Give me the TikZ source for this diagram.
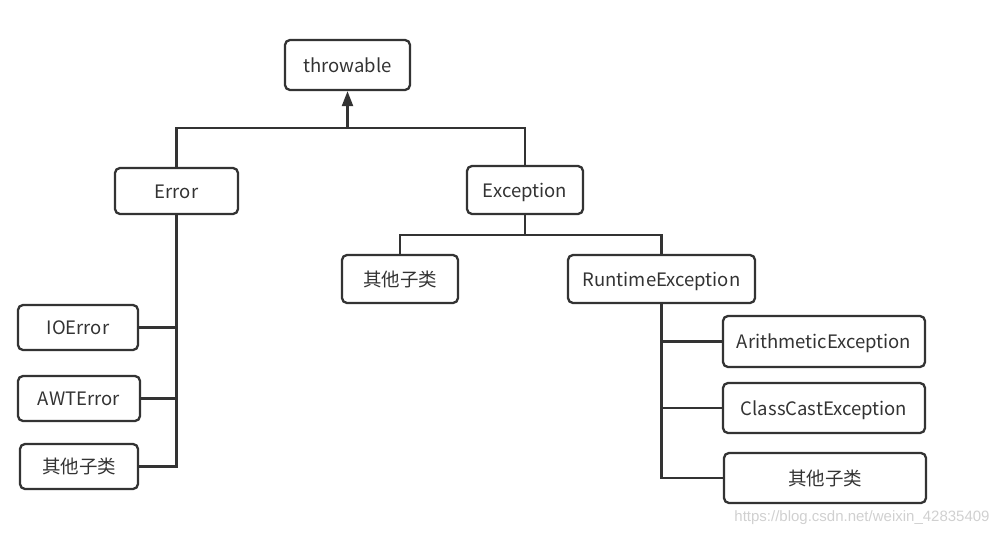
\documentclass[tikz,border=0pt]{standalone}
\usepackage{fontspec}
\setmainfont{Noto Sans CJK SC}
\newfontfamily\wmfont{Liberation Sans}
\usetikzlibrary{arrows.meta}
\definecolor{ink}{HTML}{333333}
\definecolor{wm}{HTML}{D0D0D0}
\tikzset{
  box/.style={draw=ink, line width=2.3pt, rounded corners=5pt, inner sep=0pt, text=ink,
    font=\fontsize{18.5}{21}\selectfont, text height=14.5pt, text depth=0pt},
  conn/.style={draw=ink, line width=2.3pt},
}
\begin{document}
\begin{tikzpicture}[x=1pt,y=-1pt]
\useasboundingbox (0,0) rectangle (1006,536);
\node[box, minimum width=125pt, minimum height=50pt] (throwable) at (347.5,65) {throwable};
\node[box, minimum width=123pt, minimum height=46pt] (error) at (176.5,191) {Error};
\node[box, minimum width=116pt, minimum height=48pt] (exception) at (525,190) {Exception};
\node[box, minimum width=116pt, minimum height=48pt] (otherm) at (400,279) {其他子类};
\node[box, minimum width=187pt, minimum height=48pt] (runtime) at (661.5,279) {RuntimeException};
\node[box, minimum width=120pt, minimum height=45pt] (ioerror) at (78,327.5) {IOError};
\node[box, minimum width=122pt, minimum height=45pt] (awterror) at (79,398.5) {AWTError};
\node[box, minimum width=118pt, minimum height=45pt] (otherl) at (79,466.5) {其他子类};
\node[box, minimum width=202pt, minimum height=51pt] (arith) at (824,341.5) {ArithmeticException};
\node[box, minimum width=202pt, minimum height=50pt] (classcast) at (824,408) {ClassCastException};
\node[box, minimum width=202pt, minimum height=50pt] (otherr) at (825,478) {其他子类};
\node[text=wm, font=\wmfont\fontsize{15}{16}\selectfont, inner sep=0pt] (wmark) at (862,518) {https://blog.csdn.net/weixin\_42835409};

\coordinate (b1) at (347.5,128);
\coordinate (b2) at (525,235);
\draw[conn] (error.north) |- (b1) -| (exception.north);
\draw[conn, -{Triangle[width=11pt,length=15pt]}] (b1) -- (throwable.south);
\draw[conn] (exception.south) -- (b2);
\draw[conn] (otherm.north) |- (b2) -| (runtime.north);
\draw[conn] (error.south) |- (otherl.east);
\draw[conn] (ioerror.east) -- (ioerror.east -| error.south);
\draw[conn] (awterror.east) -- (awterror.east -| error.south);
\draw[conn] (runtime.south) |- (otherr.west);
\draw[conn] (arith.west) -- (arith.west -| runtime.south);
\draw[conn] (classcast.west) -- (classcast.west -| runtime.south);
\end{tikzpicture}
\end{document}
